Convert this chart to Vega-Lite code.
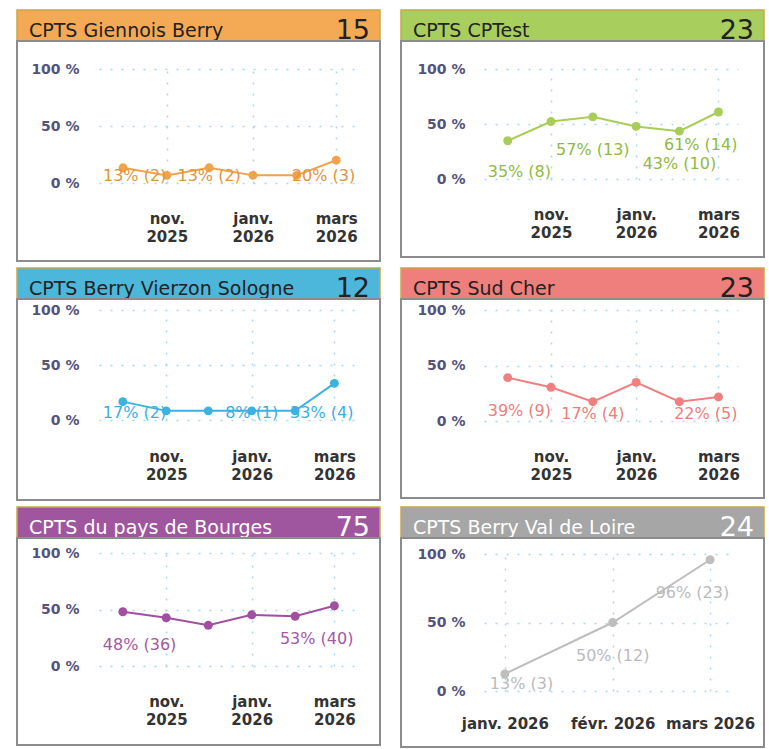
{
"$schema": "https://vega.github.io/schema/vega-lite/v6.json",
"background": "white",
"padding": {"left": 16, "top": 9, "right": 0, "bottom": 0},
"datasets": {
"headers": [
{"cpts": "CPTS Giennois Berry", "n": 15},
{"cpts": "CPTS CPTest", "n": 23},
{"cpts": "CPTS Berry Vierzon Sologne", "n": 12},
{"cpts": "CPTS Sud Cher", "n": 23},
{"cpts": "CPTS du pays de Bourges", "n": 75},
{"cpts": "CPTS Berry Val de Loire", "n": 24}
],
"points": [
{"cpts": "CPTS Giennois Berry", "date": "2025-10-01", "pct": 0.133, "label": "13% (2)"},
{"cpts": "CPTS Giennois Berry", "date": "2025-11-01", "pct": 0.067, "label": null},
{"cpts": "CPTS Giennois Berry", "date": "2025-12-01", "pct": 0.133, "label": "13% (2)"},
{"cpts": "CPTS Giennois Berry", "date": "2026-01-01", "pct": 0.067, "label": null},
{"cpts": "CPTS Giennois Berry", "date": "2026-02-01", "pct": 0.067, "label": null},
{"cpts": "CPTS Giennois Berry", "date": "2026-03-01", "pct": 0.2, "label": "20% (3)"},
{"cpts": "CPTS CPTest", "date": "2025-10-01", "pct": 0.348, "label": "35% (8)"},
{"cpts": "CPTS CPTest", "date": "2025-11-01", "pct": 0.522, "label": null},
{"cpts": "CPTS CPTest", "date": "2025-12-01", "pct": 0.565, "label": "57% (13)"},
{"cpts": "CPTS CPTest", "date": "2026-01-01", "pct": 0.478, "label": null},
{"cpts": "CPTS CPTest", "date": "2026-02-01", "pct": 0.435, "label": "43% (10)"},
{"cpts": "CPTS CPTest", "date": "2026-03-01", "pct": 0.609, "label": "61% (14)"},
{"cpts": "CPTS Berry Vierzon Sologne", "date": "2025-10-01", "pct": 0.167, "label": "17% (2)"},
{"cpts": "CPTS Berry Vierzon Sologne", "date": "2025-11-01", "pct": 0.083, "label": null},
{"cpts": "CPTS Berry Vierzon Sologne", "date": "2025-12-01", "pct": 0.083, "label": null},
{"cpts": "CPTS Berry Vierzon Sologne", "date": "2026-01-01", "pct": 0.083, "label": "8% (1)"},
{"cpts": "CPTS Berry Vierzon Sologne", "date": "2026-02-01", "pct": 0.083, "label": null},
{"cpts": "CPTS Berry Vierzon Sologne", "date": "2026-03-01", "pct": 0.333, "label": "33% (4)"},
{"cpts": "CPTS Sud Cher", "date": "2025-10-01", "pct": 0.391, "label": "39% (9)"},
{"cpts": "CPTS Sud Cher", "date": "2025-11-01", "pct": 0.304, "label": null},
{"cpts": "CPTS Sud Cher", "date": "2025-12-01", "pct": 0.174, "label": "17% (4)"},
{"cpts": "CPTS Sud Cher", "date": "2026-01-01", "pct": 0.348, "label": null},
{"cpts": "CPTS Sud Cher", "date": "2026-02-01", "pct": 0.174, "label": null},
{"cpts": "CPTS Sud Cher", "date": "2026-03-01", "pct": 0.217, "label": "22% (5)"},
{"cpts": "CPTS du pays de Bourges", "date": "2025-10-01", "pct": 0.48, "label": "48% (36)"},
{"cpts": "CPTS du pays de Bourges", "date": "2025-11-01", "pct": 0.427, "label": null},
{"cpts": "CPTS du pays de Bourges", "date": "2025-12-01", "pct": 0.36, "label": null},
{"cpts": "CPTS du pays de Bourges", "date": "2026-01-01", "pct": 0.453, "label": null},
{"cpts": "CPTS du pays de Bourges", "date": "2026-02-01", "pct": 0.44, "label": null},
{"cpts": "CPTS du pays de Bourges", "date": "2026-03-01", "pct": 0.533, "label": "53% (40)"},
{"cpts": "CPTS Berry Val de Loire", "date": "2026-01-01", "pct": 0.125, "label": "13% (3)"},
{"cpts": "CPTS Berry Val de Loire", "date": "2026-02-01", "pct": 0.5, "label": "50% (12)"},
{"cpts": "CPTS Berry Val de Loire", "date": "2026-03-01", "pct": 0.958, "label": "96% (23)"}
]
},
"spacing": 5,
"vconcat": [
{"hconcat": [
{"vconcat": [
{"width": 363, "height": 31, "view": {"fill": "#F4A955", "stroke": "#C8A84B", "strokeWidth": 1.5},
 "data": {"name": "headers"}, "transform": [{"filter": {"field": "cpts", "equal": "CPTS Giennois Berry"}}],
 "layer": [
  {"mark": {"type": "text", "align": "left", "baseline": "alphabetic", "dx": 12, "dy": 11, "fontSize": 19, "color": "#222222"}, "encoding": {"x": {"datum": 0, "type": "quantitative", "scale": {"domain": [0, 1]}, "axis": null}, "text": {"field": "cpts"}}},
  {"mark": {"type": "text", "align": "right", "baseline": "alphabetic", "dx": -10, "dy": 13, "fontSize": 27, "color": "#222222"}, "encoding": {"x": {"datum": 1, "type": "quantitative", "scale": {"domain": [0, 1]}, "axis": null}, "text": {"field": "n"}}}
 ]},
{"width": 363, "height": 220, "view": {"fill": "white", "stroke": "#8c8c8c", "strokeWidth": 2},
 "data": {"name": "points"}, "transform": [{"filter": {"field": "cpts", "equal": "CPTS Giennois Berry"}}],
 "resolve": {"scale": {"x": "independent", "y": "independent"}},
 "layer": [
  {"encoding": {
    "x": {"field": "date", "type": "temporal", "scale": {"type": "utc", "domain": [{"year": 2025, "month": 9, "date": 14, "utc": true}, {"year": 2026, "month": 3, "date": 15, "utc": true}], "range": [82, 339], "nice": false},
          "axis": {"orient": "top", "title": null, "labels": false, "values": [{"year": 2025, "month": 11, "date": 1, "utc": true}, {"year": 2026, "month": 1, "date": 1, "utc": true}, {"year": 2026, "month": 3, "date": 1, "utc": true}]}},
    "y": {"field": "pct", "type": "quantitative", "scale": {"domain": [0, 1], "range": [142, 28], "nice": false, "zero": false},
          "axis": {"title": null, "offset": -64, "values": [0, 0.5, 1], "labelExpr": "round(datum.value * 100) + ' %'"}}},
   "layer": [
    {"mark": {"type": "line", "color": "#F2A24A", "strokeWidth": 2}},
    {"mark": {"type": "point", "filled": true, "opacity": 1, "size": 80, "color": "#F2A24A"}}
   ]},
  {"transform": [{"filter": "datum.label != null"}, {"filter": {"field": "date", "equal": {"year": 2025, "month": 10, "date": 1, "utc": true}}}],
   "mark": {"type": "text", "align": "left", "dx": -20, "fontSize": 16, "color": "#E0953F"},
   "encoding": {
    "x": {"field": "date", "type": "temporal", "scale": {"type": "utc", "domain": [{"year": 2025, "month": 9, "date": 14, "utc": true}, {"year": 2026, "month": 3, "date": 15, "utc": true}], "range": [82, 339], "nice": false}, "axis": null},
    "y": {"field": "pct", "type": "quantitative", "scale": {"domain": [0.351, 1.351], "range": [135, 21], "clamp": true, "nice": false, "zero": false}, "axis": null},
    "text": {"field": "label"}}},
  {"transform": [{"filter": "datum.label != null"}, {"filter": {"not": {"or": [{"field": "date", "equal": {"year": 2025, "month": 10, "date": 1, "utc": true}}, {"field": "date", "equal": {"year": 2026, "month": 3, "date": 1, "utc": true}}]}}}],
   "mark": {"type": "text", "align": "center", "fontSize": 16, "color": "#E0953F"},
   "encoding": {
    "x": {"field": "date", "type": "temporal", "scale": {"type": "utc", "domain": [{"year": 2025, "month": 9, "date": 14, "utc": true}, {"year": 2026, "month": 3, "date": 15, "utc": true}], "range": [82, 339], "nice": false}, "axis": null},
    "y": {"field": "pct", "type": "quantitative", "scale": {"domain": [0.351, 1.351], "range": [135, 21], "clamp": true, "nice": false, "zero": false}, "axis": null},
    "text": {"field": "label"}}},
  {"transform": [{"filter": "datum.label != null"}, {"filter": {"field": "date", "equal": {"year": 2026, "month": 3, "date": 1, "utc": true}}}],
   "mark": {"type": "text", "align": "right", "dx": 19, "fontSize": 16, "color": "#E0953F"},
   "encoding": {
    "x": {"field": "date", "type": "temporal", "scale": {"type": "utc", "domain": [{"year": 2025, "month": 9, "date": 14, "utc": true}, {"year": 2026, "month": 3, "date": 15, "utc": true}], "range": [82, 339], "nice": false},
          "axis": {"orient": "bottom", "title": null, "grid": false, "offset": -50, "values": [{"year": 2025, "month": 11, "date": 1, "utc": true}, {"year": 2026, "month": 1, "date": 1, "utc": true}, {"year": 2026, "month": 3, "date": 1, "utc": true}], "labelExpr": "[['janv.','févr.','mars','avr.','mai','juin','juil.','août','sept.','oct.','nov.','déc.'][utcmonth(datum.value)], '' + utcyear(datum.value)]"}},
    "y": {"field": "pct", "type": "quantitative", "scale": {"domain": [0.351, 1.351], "range": [135, 21], "clamp": true, "nice": false, "zero": false}, "axis": null},
    "text": {"field": "label"}}}
 ]}
], "spacing": 0, "bounds": "flush"},
{"vconcat": [
{"width": 363, "height": 31, "view": {"fill": "#A8CE5E", "stroke": "#C8A84B", "strokeWidth": 1.5},
 "data": {"name": "headers"}, "transform": [{"filter": {"field": "cpts", "equal": "CPTS CPTest"}}],
 "layer": [
  {"mark": {"type": "text", "align": "left", "baseline": "alphabetic", "dx": 12, "dy": 11, "fontSize": 19, "color": "#222222"}, "encoding": {"x": {"datum": 0, "type": "quantitative", "scale": {"domain": [0, 1]}, "axis": null}, "text": {"field": "cpts"}}},
  {"mark": {"type": "text", "align": "right", "baseline": "alphabetic", "dx": -10, "dy": 13, "fontSize": 27, "color": "#222222"}, "encoding": {"x": {"datum": 1, "type": "quantitative", "scale": {"domain": [0, 1]}, "axis": null}, "text": {"field": "n"}}}
 ]},
{"width": 363, "height": 216, "view": {"fill": "white", "stroke": "#8c8c8c", "strokeWidth": 2},
 "data": {"name": "points"}, "transform": [{"filter": {"field": "cpts", "equal": "CPTS CPTest"}}],
 "resolve": {"scale": {"x": "independent", "y": "independent"}},
 "layer": [
  {"encoding": {
    "x": {"field": "date", "type": "temporal", "scale": {"type": "utc", "domain": [{"year": 2025, "month": 9, "date": 14, "utc": true}, {"year": 2026, "month": 3, "date": 15, "utc": true}], "range": [83, 337], "nice": false},
          "axis": {"orient": "top", "title": null, "labels": false, "values": [{"year": 2025, "month": 11, "date": 1, "utc": true}, {"year": 2026, "month": 1, "date": 1, "utc": true}, {"year": 2026, "month": 3, "date": 1, "utc": true}]}},
    "y": {"field": "pct", "type": "quantitative", "scale": {"domain": [0, 1], "range": [138, 28], "nice": false, "zero": false},
          "axis": {"title": null, "offset": -66, "values": [0, 0.5, 1], "labelExpr": "round(datum.value * 100) + ' %'"}}},
   "layer": [
    {"mark": {"type": "line", "color": "#A9CD58", "strokeWidth": 2}},
    {"mark": {"type": "point", "filled": true, "opacity": 1, "size": 80, "color": "#A9CD58"}}
   ]},
  {"transform": [{"filter": "datum.label != null"}, {"filter": {"field": "date", "equal": {"year": 2025, "month": 10, "date": 1, "utc": true}}}],
   "mark": {"type": "text", "align": "left", "dx": -20, "fontSize": 16, "color": "#8EBB3D"},
   "encoding": {
    "x": {"field": "date", "type": "temporal", "scale": {"type": "utc", "domain": [{"year": 2025, "month": 9, "date": 14, "utc": true}, {"year": 2026, "month": 3, "date": 15, "utc": true}], "range": [83, 337], "nice": false}, "axis": null},
    "y": {"field": "pct", "type": "quantitative", "scale": {"domain": [0.364, 1.364], "range": [131, 21], "clamp": true, "nice": false, "zero": false}, "axis": null},
    "text": {"field": "label"}}},
  {"transform": [{"filter": "datum.label != null"}, {"filter": {"not": {"or": [{"field": "date", "equal": {"year": 2025, "month": 10, "date": 1, "utc": true}}, {"field": "date", "equal": {"year": 2026, "month": 3, "date": 1, "utc": true}}]}}}],
   "mark": {"type": "text", "align": "center", "fontSize": 16, "color": "#8EBB3D"},
   "encoding": {
    "x": {"field": "date", "type": "temporal", "scale": {"type": "utc", "domain": [{"year": 2025, "month": 9, "date": 14, "utc": true}, {"year": 2026, "month": 3, "date": 15, "utc": true}], "range": [83, 337], "nice": false}, "axis": null},
    "y": {"field": "pct", "type": "quantitative", "scale": {"domain": [0.364, 1.364], "range": [131, 21], "clamp": true, "nice": false, "zero": false}, "axis": null},
    "text": {"field": "label"}}},
  {"transform": [{"filter": "datum.label != null"}, {"filter": {"field": "date", "equal": {"year": 2026, "month": 3, "date": 1, "utc": true}}}],
   "mark": {"type": "text", "align": "right", "dx": 19, "fontSize": 16, "color": "#8EBB3D"},
   "encoding": {
    "x": {"field": "date", "type": "temporal", "scale": {"type": "utc", "domain": [{"year": 2025, "month": 9, "date": 14, "utc": true}, {"year": 2026, "month": 3, "date": 15, "utc": true}], "range": [83, 337], "nice": false},
          "axis": {"orient": "bottom", "title": null, "grid": false, "offset": -50, "values": [{"year": 2025, "month": 11, "date": 1, "utc": true}, {"year": 2026, "month": 1, "date": 1, "utc": true}, {"year": 2026, "month": 3, "date": 1, "utc": true}], "labelExpr": "[['janv.','févr.','mars','avr.','mai','juin','juil.','août','sept.','oct.','nov.','déc.'][utcmonth(datum.value)], '' + utcyear(datum.value)]"}},
    "y": {"field": "pct", "type": "quantitative", "scale": {"domain": [0.364, 1.364], "range": [131, 21], "clamp": true, "nice": false, "zero": false}, "axis": null},
    "text": {"field": "label"}}}
 ]}
], "spacing": 0, "bounds": "flush"}
], "spacing": 19},
{"hconcat": [
{"vconcat": [
{"width": 363, "height": 31, "view": {"fill": "#4DB7DB", "stroke": "#C8A84B", "strokeWidth": 1.5},
 "data": {"name": "headers"}, "transform": [{"filter": {"field": "cpts", "equal": "CPTS Berry Vierzon Sologne"}}],
 "layer": [
  {"mark": {"type": "text", "align": "left", "baseline": "alphabetic", "dx": 12, "dy": 11, "fontSize": 19, "color": "#222222"}, "encoding": {"x": {"datum": 0, "type": "quantitative", "scale": {"domain": [0, 1]}, "axis": null}, "text": {"field": "cpts"}}},
  {"mark": {"type": "text", "align": "right", "baseline": "alphabetic", "dx": -10, "dy": 13, "fontSize": 27, "color": "#222222"}, "encoding": {"x": {"datum": 1, "type": "quantitative", "scale": {"domain": [0, 1]}, "axis": null}, "text": {"field": "n"}}}
 ]},
{"width": 363, "height": 201, "view": {"fill": "white", "stroke": "#8c8c8c", "strokeWidth": 2},
 "data": {"name": "points"}, "transform": [{"filter": {"field": "cpts", "equal": "CPTS Berry Vierzon Sologne"}}],
 "resolve": {"scale": {"x": "independent", "y": "independent"}},
 "layer": [
  {"encoding": {
    "x": {"field": "date", "type": "temporal", "scale": {"type": "utc", "domain": [{"year": 2025, "month": 9, "date": 14, "utc": true}, {"year": 2026, "month": 3, "date": 15, "utc": true}], "range": [82, 337], "nice": false},
          "axis": {"orient": "top", "title": null, "labels": false, "values": [{"year": 2025, "month": 11, "date": 1, "utc": true}, {"year": 2026, "month": 1, "date": 1, "utc": true}, {"year": 2026, "month": 3, "date": 1, "utc": true}]}},
    "y": {"field": "pct", "type": "quantitative", "scale": {"domain": [0, 1], "range": [121, 11], "nice": false, "zero": false},
          "axis": {"title": null, "offset": -64, "values": [0, 0.5, 1], "labelExpr": "round(datum.value * 100) + ' %'"}}},
   "layer": [
    {"mark": {"type": "line", "color": "#3DB2E0", "strokeWidth": 2}},
    {"mark": {"type": "point", "filled": true, "opacity": 1, "size": 80, "color": "#3DB2E0"}}
   ]},
  {"transform": [{"filter": "datum.label != null"}, {"filter": {"field": "date", "equal": {"year": 2025, "month": 10, "date": 1, "utc": true}}}],
   "mark": {"type": "text", "align": "left", "dx": -20, "fontSize": 16, "color": "#3AAFE3"},
   "encoding": {
    "x": {"field": "date", "type": "temporal", "scale": {"type": "utc", "domain": [{"year": 2025, "month": 9, "date": 14, "utc": true}, {"year": 2026, "month": 3, "date": 15, "utc": true}], "range": [82, 337], "nice": false}, "axis": null},
    "y": {"field": "pct", "type": "quantitative", "scale": {"domain": [0.364, 1.364], "range": [114, 4], "clamp": true, "nice": false, "zero": false}, "axis": null},
    "text": {"field": "label"}}},
  {"transform": [{"filter": "datum.label != null"}, {"filter": {"not": {"or": [{"field": "date", "equal": {"year": 2025, "month": 10, "date": 1, "utc": true}}, {"field": "date", "equal": {"year": 2026, "month": 3, "date": 1, "utc": true}}]}}}],
   "mark": {"type": "text", "align": "center", "fontSize": 16, "color": "#3AAFE3"},
   "encoding": {
    "x": {"field": "date", "type": "temporal", "scale": {"type": "utc", "domain": [{"year": 2025, "month": 9, "date": 14, "utc": true}, {"year": 2026, "month": 3, "date": 15, "utc": true}], "range": [82, 337], "nice": false}, "axis": null},
    "y": {"field": "pct", "type": "quantitative", "scale": {"domain": [0.364, 1.364], "range": [114, 4], "clamp": true, "nice": false, "zero": false}, "axis": null},
    "text": {"field": "label"}}},
  {"transform": [{"filter": "datum.label != null"}, {"filter": {"field": "date", "equal": {"year": 2026, "month": 3, "date": 1, "utc": true}}}],
   "mark": {"type": "text", "align": "right", "dx": 19, "fontSize": 16, "color": "#3AAFE3"},
   "encoding": {
    "x": {"field": "date", "type": "temporal", "scale": {"type": "utc", "domain": [{"year": 2025, "month": 9, "date": 14, "utc": true}, {"year": 2026, "month": 3, "date": 15, "utc": true}], "range": [82, 337], "nice": false},
          "axis": {"orient": "bottom", "title": null, "grid": false, "offset": -51, "values": [{"year": 2025, "month": 11, "date": 1, "utc": true}, {"year": 2026, "month": 1, "date": 1, "utc": true}, {"year": 2026, "month": 3, "date": 1, "utc": true}], "labelExpr": "[['janv.','févr.','mars','avr.','mai','juin','juil.','août','sept.','oct.','nov.','déc.'][utcmonth(datum.value)], '' + utcyear(datum.value)]"}},
    "y": {"field": "pct", "type": "quantitative", "scale": {"domain": [0.364, 1.364], "range": [114, 4], "clamp": true, "nice": false, "zero": false}, "axis": null},
    "text": {"field": "label"}}}
 ]}
], "spacing": 0, "bounds": "flush"},
{"vconcat": [
{"width": 363, "height": 31, "view": {"fill": "#EE7F7C", "stroke": "#C8A84B", "strokeWidth": 1.5},
 "data": {"name": "headers"}, "transform": [{"filter": {"field": "cpts", "equal": "CPTS Sud Cher"}}],
 "layer": [
  {"mark": {"type": "text", "align": "left", "baseline": "alphabetic", "dx": 12, "dy": 11, "fontSize": 19, "color": "#222222"}, "encoding": {"x": {"datum": 0, "type": "quantitative", "scale": {"domain": [0, 1]}, "axis": null}, "text": {"field": "cpts"}}},
  {"mark": {"type": "text", "align": "right", "baseline": "alphabetic", "dx": -10, "dy": 13, "fontSize": 27, "color": "#222222"}, "encoding": {"x": {"datum": 1, "type": "quantitative", "scale": {"domain": [0, 1]}, "axis": null}, "text": {"field": "n"}}}
 ]},
{"width": 363, "height": 199, "view": {"fill": "white", "stroke": "#8c8c8c", "strokeWidth": 2},
 "data": {"name": "points"}, "transform": [{"filter": {"field": "cpts", "equal": "CPTS Sud Cher"}}],
 "resolve": {"scale": {"x": "independent", "y": "independent"}},
 "layer": [
  {"encoding": {
    "x": {"field": "date", "type": "temporal", "scale": {"type": "utc", "domain": [{"year": 2025, "month": 9, "date": 14, "utc": true}, {"year": 2026, "month": 3, "date": 15, "utc": true}], "range": [83, 337], "nice": false},
          "axis": {"orient": "top", "title": null, "labels": false, "values": [{"year": 2025, "month": 11, "date": 1, "utc": true}, {"year": 2026, "month": 1, "date": 1, "utc": true}, {"year": 2026, "month": 3, "date": 1, "utc": true}]}},
    "y": {"field": "pct", "type": "quantitative", "scale": {"domain": [0, 1], "range": [122, 11], "nice": false, "zero": false},
          "axis": {"title": null, "offset": -66, "values": [0, 0.5, 1], "labelExpr": "round(datum.value * 100) + ' %'"}}},
   "layer": [
    {"mark": {"type": "line", "color": "#F08080", "strokeWidth": 2}},
    {"mark": {"type": "point", "filled": true, "opacity": 1, "size": 80, "color": "#F08080"}}
   ]},
  {"transform": [{"filter": "datum.label != null"}, {"filter": {"field": "date", "equal": {"year": 2025, "month": 10, "date": 1, "utc": true}}}],
   "mark": {"type": "text", "align": "left", "dx": -20, "fontSize": 16, "color": "#F07D7B"},
   "encoding": {
    "x": {"field": "date", "type": "temporal", "scale": {"type": "utc", "domain": [{"year": 2025, "month": 9, "date": 14, "utc": true}, {"year": 2026, "month": 3, "date": 15, "utc": true}], "range": [83, 337], "nice": false}, "axis": null},
    "y": {"field": "pct", "type": "quantitative", "scale": {"domain": [0.36, 1.36], "range": [115, 4], "clamp": true, "nice": false, "zero": false}, "axis": null},
    "text": {"field": "label"}}},
  {"transform": [{"filter": "datum.label != null"}, {"filter": {"not": {"or": [{"field": "date", "equal": {"year": 2025, "month": 10, "date": 1, "utc": true}}, {"field": "date", "equal": {"year": 2026, "month": 3, "date": 1, "utc": true}}]}}}],
   "mark": {"type": "text", "align": "center", "fontSize": 16, "color": "#F07D7B"},
   "encoding": {
    "x": {"field": "date", "type": "temporal", "scale": {"type": "utc", "domain": [{"year": 2025, "month": 9, "date": 14, "utc": true}, {"year": 2026, "month": 3, "date": 15, "utc": true}], "range": [83, 337], "nice": false}, "axis": null},
    "y": {"field": "pct", "type": "quantitative", "scale": {"domain": [0.36, 1.36], "range": [115, 4], "clamp": true, "nice": false, "zero": false}, "axis": null},
    "text": {"field": "label"}}},
  {"transform": [{"filter": "datum.label != null"}, {"filter": {"field": "date", "equal": {"year": 2026, "month": 3, "date": 1, "utc": true}}}],
   "mark": {"type": "text", "align": "right", "dx": 19, "fontSize": 16, "color": "#F07D7B"},
   "encoding": {
    "x": {"field": "date", "type": "temporal", "scale": {"type": "utc", "domain": [{"year": 2025, "month": 9, "date": 14, "utc": true}, {"year": 2026, "month": 3, "date": 15, "utc": true}], "range": [83, 337], "nice": false},
          "axis": {"orient": "bottom", "title": null, "grid": false, "offset": -49, "values": [{"year": 2025, "month": 11, "date": 1, "utc": true}, {"year": 2026, "month": 1, "date": 1, "utc": true}, {"year": 2026, "month": 3, "date": 1, "utc": true}], "labelExpr": "[['janv.','févr.','mars','avr.','mai','juin','juil.','août','sept.','oct.','nov.','déc.'][utcmonth(datum.value)], '' + utcyear(datum.value)]"}},
    "y": {"field": "pct", "type": "quantitative", "scale": {"domain": [0.36, 1.36], "range": [115, 4], "clamp": true, "nice": false, "zero": false}, "axis": null},
    "text": {"field": "label"}}}
 ]}
], "spacing": 0, "bounds": "flush"}
], "spacing": 19},
{"hconcat": [
{"vconcat": [
{"width": 363, "height": 31, "view": {"fill": "#A0569F", "stroke": "#C8A84B", "strokeWidth": 1.5},
 "data": {"name": "headers"}, "transform": [{"filter": {"field": "cpts", "equal": "CPTS du pays de Bourges"}}],
 "layer": [
  {"mark": {"type": "text", "align": "left", "baseline": "alphabetic", "dx": 12, "dy": 11, "fontSize": 19, "color": "#FFFFFF"}, "encoding": {"x": {"datum": 0, "type": "quantitative", "scale": {"domain": [0, 1]}, "axis": null}, "text": {"field": "cpts"}}},
  {"mark": {"type": "text", "align": "right", "baseline": "alphabetic", "dx": -10, "dy": 13, "fontSize": 27, "color": "#FFFFFF"}, "encoding": {"x": {"datum": 1, "type": "quantitative", "scale": {"domain": [0, 1]}, "axis": null}, "text": {"field": "n"}}}
 ]},
{"width": 363, "height": 207, "view": {"fill": "white", "stroke": "#8c8c8c", "strokeWidth": 2},
 "data": {"name": "points"}, "transform": [{"filter": {"field": "cpts", "equal": "CPTS du pays de Bourges"}}],
 "resolve": {"scale": {"x": "independent", "y": "independent"}},
 "layer": [
  {"encoding": {
    "x": {"field": "date", "type": "temporal", "scale": {"type": "utc", "domain": [{"year": 2025, "month": 9, "date": 14, "utc": true}, {"year": 2026, "month": 3, "date": 15, "utc": true}], "range": [82, 337], "nice": false},
          "axis": {"orient": "top", "title": null, "labels": false, "values": [{"year": 2025, "month": 11, "date": 1, "utc": true}, {"year": 2026, "month": 1, "date": 1, "utc": true}, {"year": 2026, "month": 3, "date": 1, "utc": true}]}},
    "y": {"field": "pct", "type": "quantitative", "scale": {"domain": [0, 1], "range": [128, 15], "nice": false, "zero": false},
          "axis": {"title": null, "offset": -64, "values": [0, 0.5, 1], "labelExpr": "round(datum.value * 100) + ' %'"}}},
   "layer": [
    {"mark": {"type": "line", "color": "#A24FA1", "strokeWidth": 2}},
    {"mark": {"type": "point", "filled": true, "opacity": 1, "size": 80, "color": "#A24FA1"}}
   ]},
  {"transform": [{"filter": "datum.label != null"}, {"filter": {"field": "date", "equal": {"year": 2025, "month": 10, "date": 1, "utc": true}}}],
   "mark": {"type": "text", "align": "left", "dx": -20, "fontSize": 16, "color": "#A657A5"},
   "encoding": {
    "x": {"field": "date", "type": "temporal", "scale": {"type": "utc", "domain": [{"year": 2025, "month": 9, "date": 14, "utc": true}, {"year": 2026, "month": 3, "date": 15, "utc": true}], "range": [82, 337], "nice": false}, "axis": null},
    "y": {"field": "pct", "type": "quantitative", "scale": {"domain": [0.354, 1.354], "range": [121, 8], "clamp": true, "nice": false, "zero": false}, "axis": null},
    "text": {"field": "label"}}},
  {"transform": [{"filter": "datum.label != null"}, {"filter": {"field": "date", "equal": {"year": 2026, "month": 3, "date": 1, "utc": true}}}],
   "mark": {"type": "text", "align": "right", "dx": 19, "fontSize": 16, "color": "#A657A5"},
   "encoding": {
    "x": {"field": "date", "type": "temporal", "scale": {"type": "utc", "domain": [{"year": 2025, "month": 9, "date": 14, "utc": true}, {"year": 2026, "month": 3, "date": 15, "utc": true}], "range": [82, 337], "nice": false},
          "axis": {"orient": "bottom", "title": null, "grid": false, "offset": -51, "values": [{"year": 2025, "month": 11, "date": 1, "utc": true}, {"year": 2026, "month": 1, "date": 1, "utc": true}, {"year": 2026, "month": 3, "date": 1, "utc": true}], "labelExpr": "[['janv.','févr.','mars','avr.','mai','juin','juil.','août','sept.','oct.','nov.','déc.'][utcmonth(datum.value)], '' + utcyear(datum.value)]"}},
    "y": {"field": "pct", "type": "quantitative", "scale": {"domain": [0.354, 1.354], "range": [121, 8], "clamp": true, "nice": false, "zero": false}, "axis": null},
    "text": {"field": "label"}}}
 ]}
], "spacing": 0, "bounds": "flush"},
{"vconcat": [
{"width": 363, "height": 31, "view": {"fill": "#A6A6A6", "stroke": "#C8A84B", "strokeWidth": 1.5},
 "data": {"name": "headers"}, "transform": [{"filter": {"field": "cpts", "equal": "CPTS Berry Val de Loire"}}],
 "layer": [
  {"mark": {"type": "text", "align": "left", "baseline": "alphabetic", "dx": 12, "dy": 11, "fontSize": 19, "color": "#FFFFFF"}, "encoding": {"x": {"datum": 0, "type": "quantitative", "scale": {"domain": [0, 1]}, "axis": null}, "text": {"field": "cpts"}}},
  {"mark": {"type": "text", "align": "right", "baseline": "alphabetic", "dx": -10, "dy": 13, "fontSize": 27, "color": "#FFFFFF"}, "encoding": {"x": {"datum": 1, "type": "quantitative", "scale": {"domain": [0, 1]}, "axis": null}, "text": {"field": "n"}}}
 ]},
{"width": 363, "height": 209, "view": {"fill": "white", "stroke": "#8c8c8c", "strokeWidth": 2},
 "data": {"name": "points"}, "transform": [{"filter": {"field": "cpts", "equal": "CPTS Berry Val de Loire"}}],
 "resolve": {"scale": {"x": "independent", "y": "independent"}},
 "layer": [
  {"encoding": {
    "x": {"field": "date", "type": "temporal", "scale": {"type": "utc", "domain": [{"year": 2025, "month": 12, "date": 26, "utc": true}, {"year": 2026, "month": 3, "date": 7, "utc": true}], "range": [83, 330], "nice": false},
          "axis": {"orient": "top", "title": null, "labels": false, "values": [{"year": 2026, "month": 1, "date": 1, "utc": true}, {"year": 2026, "month": 2, "date": 1, "utc": true}, {"year": 2026, "month": 3, "date": 1, "utc": true}]}},
    "y": {"field": "pct", "type": "quantitative", "scale": {"domain": [0, 1], "range": [153, 16], "nice": false, "zero": false},
          "axis": {"title": null, "offset": -66, "values": [0, 0.5, 1], "labelExpr": "round(datum.value * 100) + ' %'"}}},
   "layer": [
    {"mark": {"type": "line", "color": "#BEBEBE", "strokeWidth": 2}},
    {"mark": {"type": "point", "filled": true, "opacity": 1, "size": 80, "color": "#BEBEBE"}}
   ]},
  {"transform": [{"filter": "datum.label != null"}, {"filter": {"field": "date", "equal": {"year": 2026, "month": 1, "date": 1, "utc": true}}}],
   "mark": {"type": "text", "align": "left", "dx": -15, "fontSize": 16, "color": "#BBBBBB"},
   "encoding": {
    "x": {"field": "date", "type": "temporal", "scale": {"type": "utc", "domain": [{"year": 2025, "month": 12, "date": 26, "utc": true}, {"year": 2026, "month": 3, "date": 7, "utc": true}], "range": [83, 330], "nice": false}, "axis": null},
    "y": {"field": "pct", "type": "quantitative", "scale": {"domain": [0.292, 1.292], "range": [146, 9], "clamp": true, "nice": false, "zero": false}, "axis": null},
    "text": {"field": "label"}}},
  {"transform": [{"filter": "datum.label != null"}, {"filter": {"field": "date", "equal": {"year": 2026, "month": 2, "date": 1, "utc": true}}}],
   "mark": {"type": "text", "align": "center", "fontSize": 16, "color": "#BBBBBB"},
   "encoding": {
    "x": {"field": "date", "type": "temporal", "scale": {"type": "utc", "domain": [{"year": 2025, "month": 12, "date": 26, "utc": true}, {"year": 2026, "month": 3, "date": 7, "utc": true}], "range": [83, 330], "nice": false}, "axis": null},
    "y": {"field": "pct", "type": "quantitative", "scale": {"domain": [0.292, 1.292], "range": [146, 9], "clamp": true, "nice": false, "zero": false}, "axis": null},
    "text": {"field": "label"}}},
  {"transform": [{"filter": "datum.label != null"}, {"filter": {"field": "date", "equal": {"year": 2026, "month": 3, "date": 1, "utc": true}}}],
   "mark": {"type": "text", "align": "right", "dx": 19, "fontSize": 16, "color": "#BBBBBB"},
   "encoding": {
    "x": {"field": "date", "type": "temporal", "scale": {"type": "utc", "domain": [{"year": 2025, "month": 12, "date": 26, "utc": true}, {"year": 2026, "month": 3, "date": 7, "utc": true}], "range": [83, 330], "nice": false},
          "axis": {"orient": "bottom", "title": null, "grid": false, "offset": -31, "values": [{"year": 2026, "month": 1, "date": 1, "utc": true}, {"year": 2026, "month": 2, "date": 1, "utc": true}, {"year": 2026, "month": 3, "date": 1, "utc": true}], "labelExpr": "['janv.','févr.','mars','avr.','mai','juin','juil.','août','sept.','oct.','nov.','déc.'][utcmonth(datum.value)] + ' ' + utcyear(datum.value)"}},
    "y": {"field": "pct", "type": "quantitative", "scale": {"domain": [0.292, 1.292], "range": [146, 9], "clamp": true, "nice": false, "zero": false}, "axis": null},
    "text": {"field": "label"}}}
 ]}
], "spacing": 0, "bounds": "flush"}
], "spacing": 19}
],
"config": {
 "axis": {"domain": false, "ticks": false, "grid": true, "gridColor": "#a6d8f2", "gridDash": [2, 9], "gridWidth": 1.5, "labelFont": "DejaVu Sans", "labelOverlap": false, "labelFlush": false, "labelBound": false},
 "axisX": {"labelFontSize": 15, "labelFontWeight": "bold", "labelColor": "#333333", "labelLineHeight": 18, "labelPadding": 0},
 "axisY": {"labelFontSize": 14, "labelFontWeight": "bold", "labelColor": "#55527c", "labelPadding": 2},
 "text": {"font": "DejaVu Sans"}
}
}
